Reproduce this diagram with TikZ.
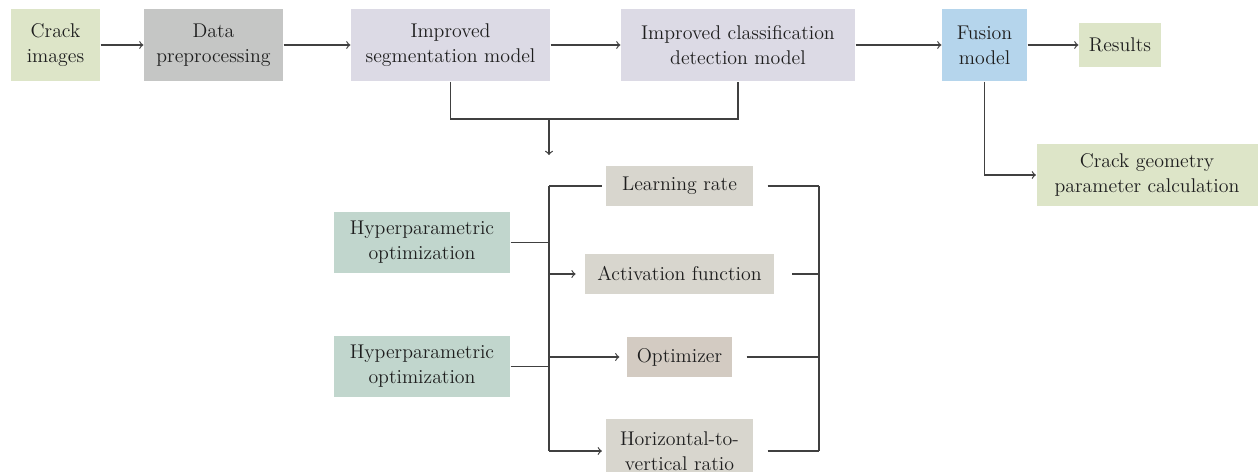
\documentclass[tikz,border=0pt]{standalone}
\usepackage{tikz}
\usetikzlibrary{calc}
\definecolor{leafgreen}{HTML}{DDE5C8}
\definecolor{stonegray}{HTML}{C5C6C5}
\definecolor{lavender}{HTML}{DCDAE5}
\definecolor{skyblue}{HTML}{B5D5EC}
\definecolor{sagegreen}{HTML}{C1D6CD}
\definecolor{sandgray}{HTML}{D8D6CE}
\definecolor{taupe}{HTML}{D3CBC2}
\definecolor{inkgray}{HTML}{1E1E1E}
\definecolor{linegray}{HTML}{404040}
\tikzstyle{box}=[
    rectangle,      % plain box, no border
    draw=none,
    inner sep=0pt,
    align=center,
    text=inkgray,
    font=\fontsize{11.3}{14.3}\selectfont]
\tikzstyle{bigbox}=[
    box,
    minimum height=1.44cm]   % the boxes of the top row
\tikzstyle{parambox}=[
    box,
    fill=sandgray,
    minimum height=0.8cm]    % the hyperparameter boxes

\begin{document}
\begin{tikzpicture}[->,>=to, line width=0.7pt, draw=linegray]
        \useasboundingbox (0,0) rectangle (25.16,-9.44);
        % Draw the top row.
        \node[bigbox, fill=leafgreen, minimum width=1.78cm] (crack) at (1.11,-0.9) {Crack\\images};
        \node[bigbox, fill=stonegray, minimum width=2.78cm, right of=crack, node distance=3.16cm] (prep) {Data\\preprocessing};
        \node[bigbox, fill=lavender, minimum width=3.98cm, right of=prep, node distance=4.74cm] (seg) {Improved\\segmentation model};
        \node[bigbox, fill=lavender, minimum width=4.68cm, right of=seg, node distance=5.75cm] (cls) {Improved classification\\detection model};
        \node[bigbox, fill=skyblue, minimum width=1.7cm, right of=cls, node distance=4.93cm] (fusion) {Fusion\\model};
        \node[box, fill=leafgreen, minimum width=1.64cm, minimum height=0.88cm, right of=fusion, node distance=2.71cm] (res) {Results};
        \node[box, fill=leafgreen, minimum width=4.42cm, minimum height=1.24cm, below of=fusion, node distance=2.6cm, xshift=3.25cm] (geom) {Crack geometry\\parameter calculation};

        % Draw the optimization part.
        \node[box, fill=sagegreen, minimum width=3.52cm, minimum height=1.22cm] (hyp1) at (8.44,-4.85) {Hyperparametric\\optimization};
        \node[box, fill=sagegreen, minimum width=3.52cm, minimum height=1.22cm, below of=hyp1, node distance=2.48cm] (hyp2) {Hyperparametric\\optimization};
        \node[parambox, minimum width=2.94cm] (lr) at (13.59,-3.72) {Learning rate};
        \node[parambox, minimum width=3.78cm, below of=lr, node distance=1.76cm] (act) {Activation function};
        \node[parambox, fill=taupe, minimum width=2.1cm, below of=act, node distance=1.66cm] (opt) {Optimizer};
        \node[parambox, minimum width=2.94cm, minimum height=1.28cm, below of=opt, node distance=1.88cm] (ratio) {Horizontal-to-\\vertical ratio};

        \coordinate (lb) at (10.98,0);
        \coordinate (rb) at (16.38,0);
        \coordinate (join) at (10.98,-2.38);
        \coordinate (down) at (10.98,-3.1);

        % Connect the top row
        \path (crack) edge (prep);
        \path (prep) edge (seg);
        \path (seg) edge (cls);
        \path (cls) edge (fusion);
        \path (fusion) edge (res);
        \draw (fusion.south) |- (geom.west);
        \draw[-] (seg.south) |- (join) -| (cls.south);
        \draw (join) -- (down);

        % Connect the optimization part
        \draw[-] (hyp1.east) -- (hyp1.east -| lb);
        \draw[-] (hyp2.east) -- (hyp2.east -| lb);
        \draw[-, shorten >=2pt] (lr.west -| lb) -- (ratio.west -| lb) (lr.west -| lb) -- (lr.west);
        \draw[shorten >=5pt] (act.west -| lb) -- (act.west);
        \draw[shorten >=4pt] (opt.west -| lb) -- (opt.west);
        \draw[shorten >=2pt] (ratio.west -| lb) -- (ratio.west);
        \draw[-, shorten <=8pt] (lr.east) -- (lr.east -| rb);
        \draw[-, shorten <=10pt] (act.east) -- (act.east -| rb);
        \draw[-, shorten <=8pt] (opt.east) -- (opt.east -| rb);
        \draw[-, shorten <=8pt] (ratio.east) -- (ratio.east -| rb);
        \draw[-] (lr.east -| rb) -- (ratio.east -| rb);
\end{tikzpicture}
\end{document}
